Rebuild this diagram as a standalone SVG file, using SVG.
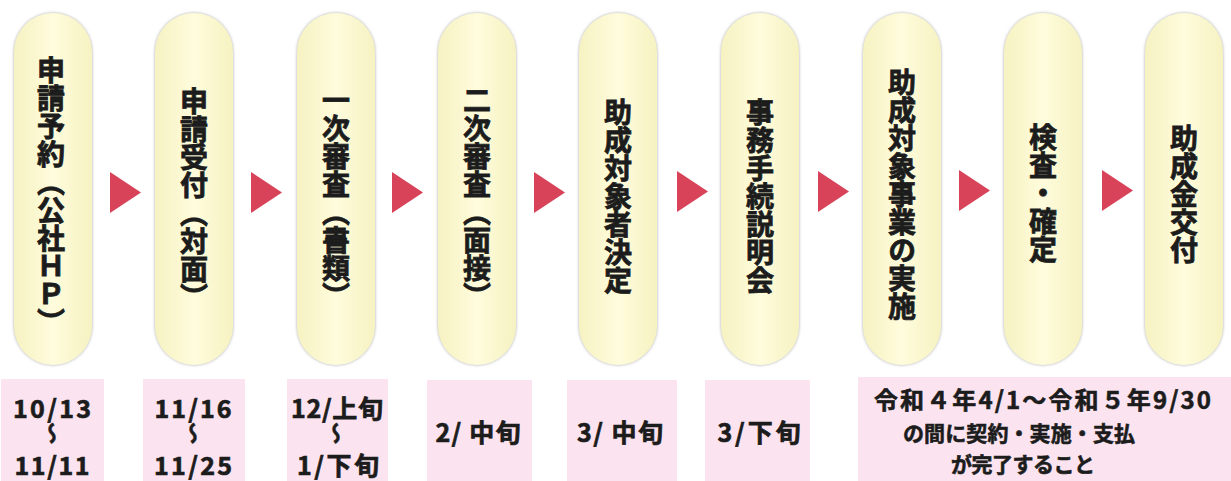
<svg xmlns="http://www.w3.org/2000/svg" width="1231" height="481" viewBox="0 0 1231 481">
<style>
.pill{fill:url(#pg);filter:url(#sh);}
.vt{font-family:"Noto Sans CJK JP","Noto Sans CJK SC",sans-serif;font-weight:700;font-size:28px;fill:#1c1c1c;stroke:#1c1c1c;stroke-width:0.8px;writing-mode:vertical-rl;text-orientation:upright;text-anchor:middle;}
.box{fill:#fbe4ef;}
.dt{font-family:"Noto Sans CJK JP","Noto Sans CJK SC",sans-serif;font-weight:700;font-size:25px;fill:#1c1c1c;stroke:#1c1c1c;stroke-width:0.7px;text-anchor:middle;}
.bt{font-family:"Noto Sans CJK JP","Noto Sans CJK SC",sans-serif;font-weight:700;font-size:21px;fill:#1c1c1c;stroke:#1c1c1c;stroke-width:0.6px;}
.wv{font-family:"Noto Sans CJK JP","Noto Sans CJK SC",sans-serif;font-weight:700;font-size:22px;fill:#1c1c1c;stroke:#1c1c1c;stroke-width:0.6px;writing-mode:vertical-rl;text-anchor:middle;}
.arr{fill:#d8435a;}
</style>
<defs>
<linearGradient id="pg" x1="0" y1="0" x2="1" y2="0">
<stop offset="0" stop-color="#f6f2c2"/>
<stop offset="0.5" stop-color="#fefcdc"/>
<stop offset="1" stop-color="#f6f2c2"/>
</linearGradient>
<filter id="sh" x="-20%" y="-10%" width="140%" height="120%">
<feGaussianBlur in="SourceAlpha" stdDeviation="1.6"/>
<feOffset dx="0" dy="0" result="b"/>
<feFlood flood-color="#8c8c8c" flood-opacity="0.75"/>
<feComposite in2="b" operator="in"/>
<feMerge><feMergeNode/><feMergeNode in="SourceGraphic"/></feMerge>
</filter>
<polygon id="tri" points="0,0 0,41 31,20.5"/>
</defs>
<rect width="1231" height="481" fill="#ffffff"/>

<g id="node1"><rect class="pill" x="14" y="13" width="78" height="352" rx="39"/><text class="vt" x="51" y="196">申請予約（公社ＨＰ）</text></g>
<g id="node2"><rect class="pill" x="155" y="13" width="78" height="352" rx="39"/><text class="vt" x="194" y="199">申請受付（対面）</text></g>
<g id="node3"><rect class="pill" x="297" y="13" width="78" height="352" rx="39"/><text class="vt" x="336" y="198">一次審査（書類）</text></g>
<g id="node4"><rect class="pill" x="438" y="13" width="78" height="352" rx="39"/><text class="vt" x="477" y="198">二次審査（面接）</text></g>
<g id="node5"><rect class="pill" x="579" y="13" width="78" height="352" rx="39"/><text class="vt" x="618" y="196">助成対象者決定</text></g>
<g id="node6"><rect class="pill" x="721" y="13" width="78" height="352" rx="39"/><text class="vt" x="760" y="196">事務手続説明会</text></g>
<g id="node7"><rect class="pill" x="863" y="13" width="78" height="352" rx="39"/><text class="vt" x="902" y="194">助成対象事業の実施</text></g>
<g id="node8"><rect class="pill" x="1004" y="13" width="78" height="352" rx="39"/><text class="vt" x="1043" y="193">検査・確定</text></g>
<g id="node9"><rect class="pill" x="1145" y="13" width="78" height="352" rx="39"/><text class="vt" x="1184" y="194">助成金交付</text></g>

<g id="connectors">
<use href="#tri" class="arr" x="110" y="172"/>
<use href="#tri" class="arr" x="251" y="172"/>
<use href="#tri" class="arr" x="392" y="172"/>
<use href="#tri" class="arr" x="534" y="172"/>
<use href="#tri" class="arr" x="677" y="171"/>
<use href="#tri" class="arr" x="818" y="171"/>
<use href="#tri" class="arr" x="959" y="170"/>
<use href="#tri" class="arr" x="1102" y="170"/>
</g>

<g id="date1"><rect class="box" x="1" y="379" width="103" height="102"/>
<text class="dt" x="52" y="418" textLength="78">10/13</text>
<text class="wv" x="52" y="433">～</text>
<text class="dt" x="52" y="475" textLength="75">11/11</text></g>
<g id="date2"><rect class="box" x="143" y="379" width="102" height="102"/>
<text class="dt" x="193" y="418" textLength="77">11/16</text>
<text class="wv" x="193" y="433">～</text>
<text class="dt" x="193" y="475" textLength="78">11/25</text></g>
<g id="date3"><rect class="box" x="287" y="379" width="101" height="102"/>
<text class="dt" x="337" y="418" textLength="92">12/上旬</text>
<text class="wv" x="336" y="433">～</text>
<text class="dt" x="338" y="475" textLength="82">1/下旬</text></g>
<g id="date4"><rect class="box" x="427" y="380" width="105" height="101"/>
<text class="dt" x="478" y="442" textLength="85">2/ 中旬</text></g>
<g id="date5"><rect class="box" x="567" y="380" width="110" height="101"/>
<text class="dt" x="620" y="442" textLength="86">3/ 中旬</text></g>
<g id="date6"><rect class="box" x="705" y="380" width="105" height="101"/>
<text class="dt" x="759" y="442" textLength="83">3/下旬</text></g>
<g id="date7"><rect class="box" x="858" y="377" width="373" height="104"/>
<text class="bt" x="874" y="409" textLength="337" style="font-size:24px">令和４年4/1～令和５年9/30</text>
<text class="bt" x="903" y="441" textLength="232">の間に契約・実施・支払</text>
<text class="bt" x="951" y="472" textLength="144">が完了すること</text></g>
</svg>
